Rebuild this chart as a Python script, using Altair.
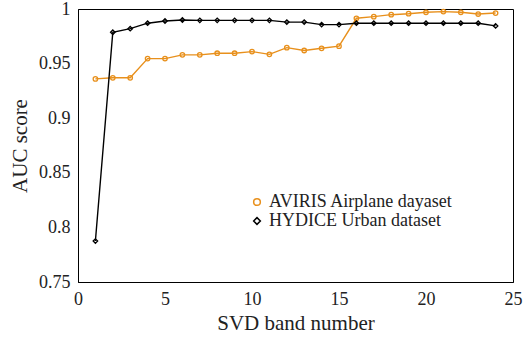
import altair as alt
import pandas as pd

bands = list(range(1, 25))
aviris = [0.936, 0.937, 0.937, 0.9546, 0.9546, 0.958, 0.958, 0.9595, 0.9595, 0.961,
          0.9585, 0.9646, 0.962, 0.964, 0.966, 0.9915, 0.993, 0.9948, 0.9957, 0.997,
          0.9976, 0.997, 0.9954, 0.9963]
hydice = [0.7875, 0.9787, 0.982, 0.987, 0.989, 0.9899, 0.9896, 0.9896, 0.9896, 0.9896,
          0.9896, 0.988, 0.988, 0.9857, 0.9857, 0.987, 0.987, 0.987, 0.987, 0.987,
          0.987, 0.987, 0.987, 0.9845]
series_names = ["AVIRIS Airplane dayaset", "HYDICE Urban dataset"]
colors = ["#E8901C", "#000000"]
shapes = ["circle", "diamond"]
xticks = [0, 5, 10, 15, 20, 25]
yticks = [0.75, 0.8, 0.85, 0.9, 0.95, 1.0]

rows = []
for b, v in zip(bands, aviris):
    rows.append({"band": b, "auc": v, "series": series_names[0]})
for b, v in zip(bands, hydice):
    rows.append({"band": b, "auc": v, "series": series_names[1]})
df = pd.DataFrame(rows)

FONT = "Liberation Serif"

chart = alt.Chart(df).mark_line(
    strokeWidth=1.4,
    point=alt.OverlayMarkDef(filled=False, size=20, strokeWidth=1.3),
).encode(
    x=alt.X("band:Q", scale=alt.Scale(domain=[0, 25], nice=False),
            axis=alt.Axis(values=xticks, title="SVD band number", grid=False, ticks=False,
                          labelPadding=8, labelFontSize=18, titleFontSize=21,
                          labelFlush=False, titlePadding=4)),
    y=alt.Y("auc:Q", scale=alt.Scale(domain=[0.75, 1.0], nice=False, zero=False),
            axis=alt.Axis(values=yticks, format="~g", title="AUC score", grid=False,
                          ticks=False, labelPadding=8, labelFontSize=18, titleFontSize=21,
                          labelFlush=False, labelOverlap=False, titlePadding=8)),
    color=alt.Color("series:N", scale=alt.Scale(domain=series_names, range=colors),
                    title=None,
                    legend=alt.Legend(orient="none", legendX=170, legendY=184,
                                      symbolSize=45, symbolStrokeWidth=1.5,
                                      labelFontSize=18, labelFont=FONT, labelColor="#222",
                                      labelLimit=0, rowPadding=1, labelOffset=3)),
    shape=alt.Shape("series:N", scale=alt.Scale(domain=series_names, range=shapes),
                    title=None),
).properties(
    width=435, height=273,
    autosize=alt.AutoSizeParams(type="none"),
    padding={"left": 78, "top": 9, "right": 18, "bottom": 57},
).configure_view(stroke="black", strokeWidth=1).configure_axis(
    labelFont=FONT, titleFont=FONT, labelColor="#222", titleColor="#222",
    titleFontWeight="normal", domainColor="black"
)

chart.save("out.html", embed_options={"renderer": "svg", "actions": False})
